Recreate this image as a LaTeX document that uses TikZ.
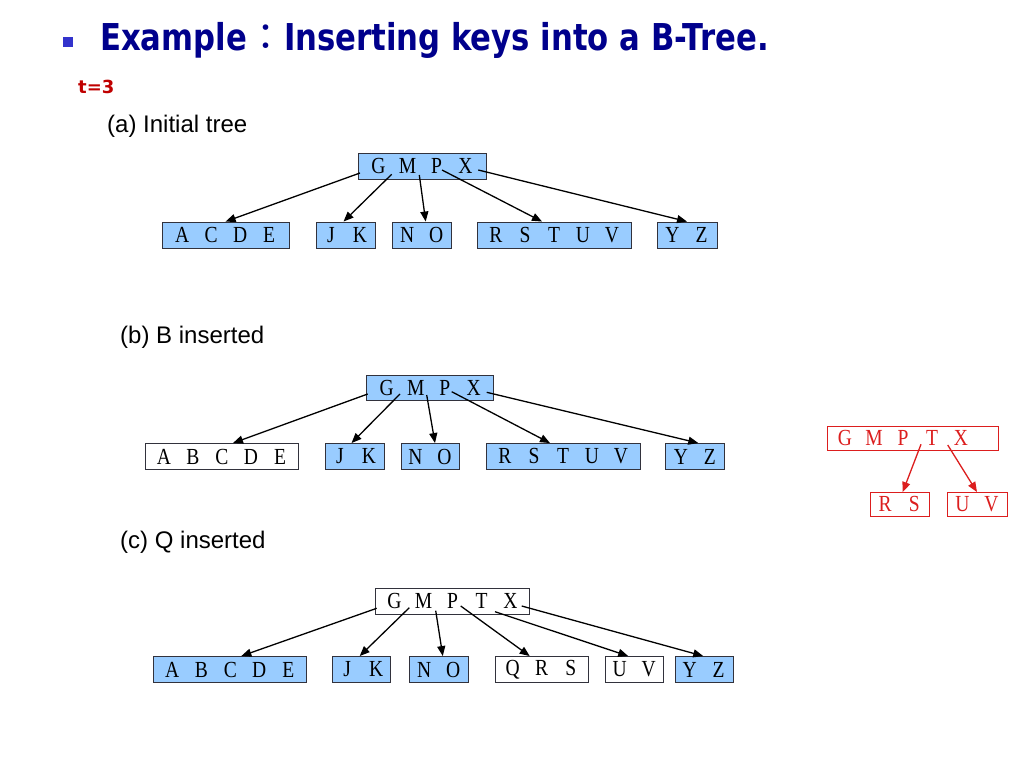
\documentclass[tikz,border=0pt]{standalone}
\usepackage{fontspec}
\setmainfont{Liberation Serif}
\newfontfamily\titlefont[FakeStretch=0.83]{DejaVu Sans}
\newfontfamily\tfont{DejaVu Sans}
\newfontfamily\cjkfont{Noto Sans CJK TC}
\newfontfamily\labfont{Liberation Sans}
\newfontfamily\keyfont[FakeStretch=0.85]{Liberation Serif}
\usetikzlibrary{arrows.meta}
\definecolor{keyblue}{RGB}{153,204,255}
\definecolor{navyc}{RGB}{0,0,140}
\definecolor{bulletc}{RGB}{51,51,204}
\definecolor{tred}{RGB}{192,0,0}
\definecolor{redc}{RGB}{220,30,30}
\definecolor{edgec}{RGB}{50,50,60}
\newcommand\kk[1]{\makebox[29pt]{#1}}
\tikzset{
  box/.style={draw=edgec, line width=0.9pt, minimum height=26pt, inner sep=0pt,
    font=\keyfont\fontsize{23}{23}\selectfont, anchor=center},
  bluebox/.style={box, fill=keyblue},
  whitebox/.style={box, fill=white},
  redbox/.style={box, draw=redc, text=redc, minimum height=23.5pt, line width=1pt},
  arr/.style={-{Triangle[length=10pt,width=8pt]}, line width=1.3pt, black},
  rarr/.style={arr, redc},
  lab/.style={anchor=base west, inner sep=0pt, font=\labfont\fontsize{24}{24}\selectfont}
}
\begin{document}
\begin{tikzpicture}[x=1pt,y=-1pt]
\useasboundingbox (0,0) rectangle (1024,768);
\fill[white] (0,0) rectangle (1024,768);
% header
\node[fill=bulletc, minimum size=10pt, inner sep=0pt] (bul) at (68,42) {};
\node[anchor=base west, inner sep=0pt, text=navyc,
  font=\titlefont\bfseries\fontsize{37}{37}\selectfont] (title) at (100,51)
  {Example{\cjkfont\mdseries ：}Inserting keys into a B-Tree.};
\node[anchor=base west, inner sep=0pt, text=tred,
  font=\tfont\bfseries\fontsize{18}{18}\selectfont] (tval) at (78,93) {t=3};
\node[lab] (la) at (107,132) {(a) Initial tree};
\node[lab] (lb) at (120,343) {(b) B inserted};
\node[lab] (lc) at (120,548) {(c) Q inserted};

% (a)
\node[bluebox, minimum width=128pt] (ra) at (422,166) {\kk{G}\kk{M}\kk{P}\kk{X}};
\node[bluebox, minimum width=127pt] (a1) at (225.6,235) {\kk{A}\kk{C}\kk{D}\kk{E}};
\node[bluebox, minimum width=59pt] (a2) at (345.5,235) {\kk{J}\kk{K}};
\node[bluebox, minimum width=59pt] (a3) at (421.7,235) {\kk{N}\kk{O}};
\node[bluebox, minimum width=154pt] (a4) at (554,235) {\kk{R}\kk{S}\kk{T}\kk{U}\kk{V}};
\node[bluebox, minimum width=60pt] (a5) at (687,235) {\kk{Y}\kk{Z}};
\coordinate (pa1) at (360,173);
\coordinate (pa2) at (391.7,174.3);
\coordinate (pa3) at (419.3,175);
\coordinate (pa4) at (442,170);
\coordinate (pa5) at (478.3,170);
\draw[arr] (pa1) -- (a1.north);
\draw[arr] (pa2) -- ([xshift=-2pt]a2.north);
\draw[arr] (pa3) -- ([xshift=4pt]a3.north);
\draw[arr] (pa4) -- ([xshift=-12pt]a4.north);
\draw[arr] (pa5) -- (a5.north);

% (b)
\node[bluebox, minimum width=127pt, minimum height=25pt] (rb) at (430.3,387.5) {\kk{G}\kk{M}\kk{P}\kk{X}};
\node[whitebox, minimum width=153pt] (b1) at (222,456.5) {\kk{A}\kk{B}\kk{C}\kk{D}\kk{E}};
\node[bluebox, minimum width=59pt] (b2) at (354.5,456.5) {\kk{J}\kk{K}};
\node[bluebox, minimum width=58pt] (b3) at (430,456.5) {\kk{N}\kk{O}};
\node[bluebox, minimum width=154pt] (b4) at (563,456.5) {\kk{R}\kk{S}\kk{T}\kk{U}\kk{V}};
\node[bluebox, minimum width=59pt] (b5) at (695.3,456.5) {\kk{Y}\kk{Z}};
\coordinate (pb1) at (367.7,394);
\coordinate (pb2) at (400,394);
\coordinate (pb3) at (426.7,395);
\coordinate (pb4) at (451.7,391.7);
\coordinate (pb5) at (486.7,392.3);
\draw[arr] (pb1) -- ([xshift=11pt]b1.north);
\draw[arr] (pb2) -- ([xshift=-3pt]b2.north);
\draw[arr] (pb3) -- ([xshift=5pt]b3.north);
\draw[arr] (pb4) -- ([xshift=-13pt]b4.north);
\draw[arr] (pb5) -- ([xshift=3pt]b5.north);

% red split
\node[redbox, minimum width=171pt] (rr) at (913,438.3) {\kk{G}\kk{M}\kk{P}\kk{T}\kk{X}\kern20pt};
\node[redbox, minimum width=59pt] (r1) at (899.7,504.3) {\kk{R}\kk{S}};
\node[redbox, minimum width=60pt] (r2) at (977,504.3) {\kk{U}\kk{V}};
\coordinate (pr1) at (921,444.3);
\coordinate (pr2) at (947.7,445);
\draw[rarr] (pr1) -- ([xshift=3pt]r1.north);
\draw[rarr] (pr2) -- (r2.north);

% (c)
\node[whitebox, minimum width=154pt] (rc) at (452.5,601.3) {\kk{G}\kk{M}\kk{P}\kk{T}\kk{X}};
\node[bluebox, minimum width=153pt] (c1) at (230.3,669.5) {\kk{A}\kk{B}\kk{C}\kk{D}\kk{E}};
\node[bluebox, minimum width=58pt] (c2) at (361.7,669.5) {\kk{J}\kk{K}};
\node[bluebox, minimum width=59pt] (c3) at (438.8,669.5) {\kk{N}\kk{O}};
\node[whitebox, minimum width=93pt] (c4) at (541.7,669.5) {\kk{Q}\kk{R}\kk{S}};
\node[whitebox, minimum width=57pt] (c5) at (634.2,669.5) {\kk{U}\kk{V}};
\node[bluebox, minimum width=58pt] (c6) at (704.2,669.5) {\kk{Y}\kk{Z}};
\coordinate (pc1) at (376.7,608.3);
\coordinate (pc2) at (409.3,607.7);
\coordinate (pc3) at (435.7,610.7);
\coordinate (pc4) at (460.7,606);
\coordinate (pc5) at (495,611.7);
\coordinate (pc6) at (521.7,606);
\draw[arr] (pc1) -- ([xshift=11pt]c1.north);
\draw[arr] (pc2) -- ([xshift=-2pt]c2.north);
\draw[arr] (pc3) -- ([xshift=4pt]c3.north);
\draw[arr] (pc4) -- ([xshift=-12pt]c4.north);
\draw[arr] (pc5) -- ([xshift=-6pt]c5.north);
\draw[arr] (pc6) -- ([xshift=-1pt]c6.north);
\end{tikzpicture}
\end{document}
